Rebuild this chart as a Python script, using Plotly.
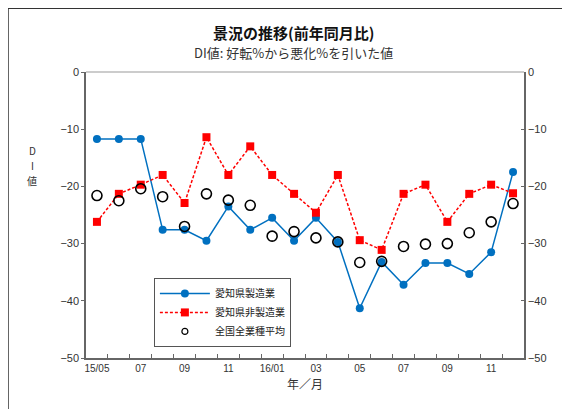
import plotly.graph_objects as go

months = ["15/05", "15/06", "15/07", "15/08", "15/09", "15/10", "15/11", "15/12",
          "16/01", "16/02", "16/03", "16/04", "16/05", "16/06", "16/07", "16/08",
          "16/09", "16/10", "16/11", "16/12"]
tick_labels = ["15/05", "07", "09", "11", "16/01", "03", "05", "07", "09", "11"]

aichi_mfg = [-11.7, -11.7, -11.7, -27.6, -27.6, -29.5, -23.5, -27.6, -25.5, -29.5,
             -25.5, -29.7, -41.3, -33.2, -37.2, -33.4, -33.4, -35.3, -31.5, -17.5]
aichi_nonmfg = [-26.2, -21.3, -19.7, -18.0, -22.9, -11.4, -18.0, -13.0, -18.0, -21.3,
                -24.6, -18.0, -29.4, -31.1, -21.3, -19.7, -26.2, -21.3, -19.7, -21.2]
national_avg = [-21.6, -22.5, -20.4, -21.8, -27.0, -21.3, -22.4, -23.3, -28.7, -27.9,
                -29.0, -29.7, -33.3, -33.1, -30.5, -30.1, -30.0, -28.1, -26.2, -23.0]

names = ["愛知県製造業", "愛知県非製造業", "全国全業種平均"]

xi = list(range(len(months)))
font_jp = "Noto Sans CJK JP"
font_num = "Liberation Sans"

fig = go.Figure()
fig.add_trace(go.Scatter(
    x=xi, y=aichi_mfg, name=names[0], mode="lines+markers",
    line=dict(color="#0070C0", width=1.5),
    marker=dict(symbol="circle", size=8, color="#0070C0"),
    text=months, hovertemplate="%{text}: %{y}<extra></extra>"))
fig.add_trace(go.Scatter(
    x=xi, y=aichi_nonmfg, name=names[1], mode="lines+markers",
    line=dict(color="#FF0000", width=1.5, dash="3px,2px"),
    marker=dict(symbol="square", size=8, color="#FF0000"),
    text=months, hovertemplate="%{text}: %{y}<extra></extra>"))
fig.add_trace(go.Scatter(
    x=xi, y=national_avg, name=names[2], mode="markers", showlegend=False,
    marker=dict(symbol="circle-open", size=10, color="#000000", line=dict(width=1.6)),
    text=months, hovertemplate="%{text}: %{y}<extra></extra>"))
# legend-only entry with small marker, as in the reference legend
fig.add_trace(go.Scatter(
    x=[None], y=[None], name=names[2], mode="markers",
    marker=dict(symbol="circle-open", size=6, color="#000000", line=dict(width=1.2))))
# invisible trace for right axis
fig.add_trace(go.Scatter(x=[xi[0]], y=[aichi_mfg[0]], yaxis="y2", mode="markers",
                         marker=dict(opacity=0), showlegend=False, hoverinfo="skip"))

tickvals_major = [xi[i] for i in range(0, len(months), 2)]
boundaries = [i + 0.5 for i in xi[:-1]]

fig.update_layout(
    width=570, height=409,
    margin=dict(l=78, r=54, t=64, b=59),
    paper_bgcolor="white", plot_bgcolor="white",
    font=dict(family=font_jp, color="#333333", size=11),
    showlegend=True,
    legend=dict(x=0.155, y=0.28, xanchor="left", yanchor="top",
                bordercolor="#555555", borderwidth=1, bgcolor="white",
                font=dict(size=10, family=font_jp, color="#222222"),
                tracegroupgap=0, itemwidth=50,
                entrywidth=118, entrywidthmode="pixels"),
    xaxis=dict(range=[-0.5, len(months) - 0.5], tickvals=tickvals_major,
               ticktext=tick_labels, ticks="", showgrid=False, zeroline=False,
               showline=True, linecolor="#666666", linewidth=1.5,
               tickfont=dict(size=10, color="#333333", family=font_num),
               minor=dict(tickvals=boundaries, ticks="inside", ticklen=4,
                          tickcolor="#666666", showgrid=False),
               title=dict(text="年／月", font=dict(size=12, color="#333333"), standoff=8),
               mirror=False),
    yaxis=dict(range=[-50, 0], dtick=10, ticks="outside", ticklen=3,
               tickcolor="#666666", showline=True, linecolor="#666666", linewidth=1.5,
               showgrid=False, zeroline=False,
               tickfont=dict(size=11, color="#333333", family=font_num)),
    yaxis2=dict(range=[-50, 0], dtick=10, overlaying="y", side="right",
                ticks="inside", ticklen=3, tickcolor="#666666", showline=True,
                linecolor="#666666", linewidth=1.5, showgrid=False, zeroline=False,
                tickfont=dict(size=11, color="#333333", family=font_num)),
)

# top border of plot area (light gray)
fig.add_shape(type="line", xref="paper", yref="paper", x0=0, x1=1, y0=1, y1=1,
              line=dict(color="#BBBBBB", width=1.5))
# outer chart border
fig.add_shape(type="rect", xref="paper", yref="paper",
              x0=-78 / 438, x1=1 + 54 / 438, y0=-59 / 286 + 0.001, y1=1 + 64 / 286 - 0.001,
              line=dict(color="#333333", width=1.5))

fig.add_annotation(text="<b>景況の推移(前年同月比)</b>", xref="paper", yref="paper",
                   x=(285 - 78) / 438, y=(350 - 25) / 286, xanchor="center", yanchor="middle",
                   showarrow=False, font=dict(size=15, color="#111111", family=font_jp))
fig.add_annotation(text="DI値: 好転%から悪化%を引いた値", xref="paper", yref="paper",
                   x=(285 - 78) / 438, y=(350 - 45) / 286, xanchor="center", yanchor="middle",
                   showarrow=False, font=dict(size=13, color="#333333", family=font_jp))
for ch, ypix in [("D", 142), ("I", 157), ("値", 172)]:
    fig.add_annotation(text=ch, xref="paper", yref="paper",
                       x=(24 - 78) / 438, y=(350 - ypix) / 286, xanchor="center",
                       yanchor="middle", showarrow=False,
                       font=dict(size=10, color="#333333", family=font_jp))

fig.write_html("out.html")
